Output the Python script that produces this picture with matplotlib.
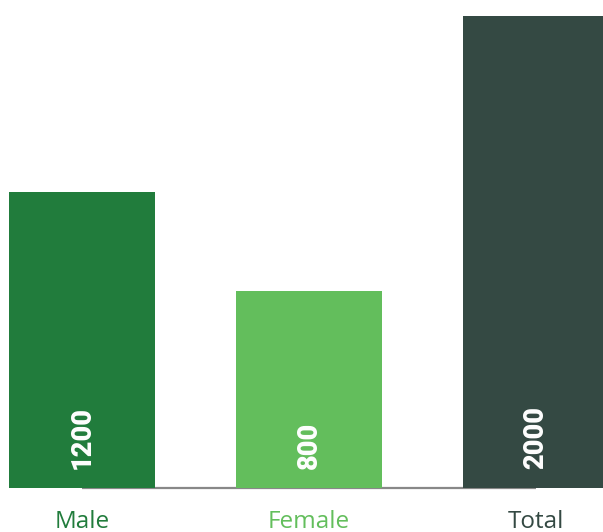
import matplotlib
matplotlib.use("Agg")
import matplotlib.pyplot as plt

# categories and counts
categories = ["Male", "Female", "Total"]
counts = [1200, 800, 2000]
colors = ["#217C3C", "#63BE5C", "#344943"]

fig = plt.figure(figsize=(6.03, 5.32), dpi=100)
ax = fig.add_axes([0, 0.0836, 1, 0.8863])

x = list(range(len(categories)))
ax.bar(x, counts, width=0.643, color=colors, zorder=2)

# grey baseline running between the bars
ax.plot([x[0], x[-1]], [0, 0], color="#888888", linewidth=1.6, zorder=1,
        clip_on=False, solid_capstyle="butt")

ax.set_xlim(-0.361, 2.295)
ax.set_ylim(0, 1915)
ax.axis("off")

for i, (cat, val, col) in enumerate(zip(categories, counts, colors)):
    # value inside bar, rotated
    ax.annotate(str(val), xy=(i, 0), xytext=(0, 13.5), textcoords="offset points",
                rotation=90, ha="center", va="bottom", color="white",
                fontsize=19.5, fontweight="black", family="Roboto")
    # category name below axis
    ax.annotate(cat, xy=(i, 0), xytext=(0, -29), textcoords="offset points",
                ha="center", va="baseline", color=col, fontsize=17.5,
                family="Open Sans", annotation_clip=False)

fig.savefig("out.png", dpi=100)
